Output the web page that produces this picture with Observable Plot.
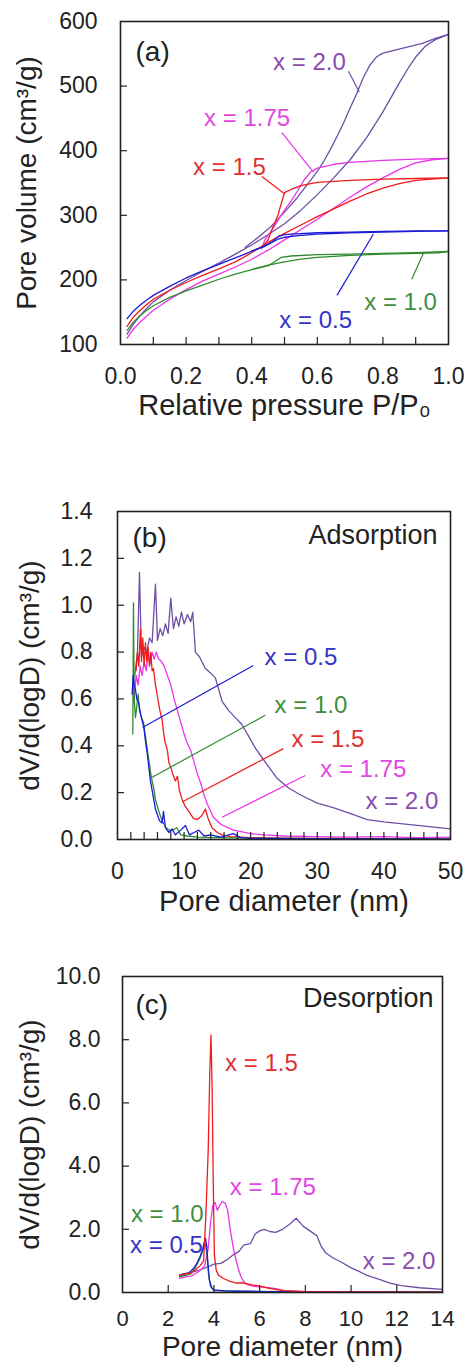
<!DOCTYPE html>
<html><head><meta charset="utf-8">
<script src="https://cdn.jsdelivr.net/npm/d3@7"></script>
<script src="https://cdn.jsdelivr.net/npm/@observablehq/plot@0.6"></script>
<style>
body{margin:0;background:#fff;}
#chart svg{display:block;}
</style>
</head><body><div id="chart"></div>
<script>
// ---------- series ----------
const SERIES = ["x = 0.5", "x = 1.0", "x = 1.5", "x = 1.75", "x = 2.0"];
const LINE_COLORS = ["#1c1cd6", "#2f8a2f", "#f01c1c", "#ea34ea", "#6e4ea6"];
const TEXT_COLORS = ["#3434c8", "#3f8f3f", "#e23030", "#e048e0", "#8a4cb0"];

// ---------- panel (a): isotherms [P/P0, volume] ----------
const a05_ads = [[0.02,140],[0.04,152],[0.06,161],[0.08,169],[0.1,176],[0.15,190],[0.2,203],[0.25,214],[0.3,224],[0.35,234],[0.4,244],[0.45,255],[0.48,263],[0.5,266],[0.55,269],[0.6,271],[0.7,273],[0.8,274],[0.9,275],[1.0,276]];
const a05_des = [[1.0,276],[0.9,276],[0.8,275],[0.7,274],[0.6,273],[0.52,271],[0.5,270],[0.48,267],[0.46,258],[0.44,252],[0.4,245]];
const a10_ads = [[0.02,122],[0.04,135],[0.06,145],[0.08,153],[0.1,160],[0.15,173],[0.2,183],[0.25,192],[0.3,201],[0.35,209],[0.4,216],[0.45,223],[0.5,228],[0.55,232],[0.6,235],[0.7,238],[0.8,240],[0.9,241],[0.97,242],[1.0,244]];
const a10_des = [[1.0,244],[0.9,242],[0.8,241],[0.7,240],[0.6,239],[0.52,237],[0.49,235],[0.47,228],[0.45,222],[0.4,216]];
const a15_ads = [[0.02,128],[0.04,143],[0.06,153],[0.08,162],[0.1,170],[0.15,184],[0.2,196],[0.25,207],[0.3,217],[0.35,228],[0.4,242],[0.45,258],[0.5,272],[0.55,285],[0.6,298],[0.65,310],[0.7,322],[0.75,333],[0.8,342],[0.85,349],[0.9,354],[0.95,356],[1.0,358]];
const a15_des = [[1.0,358],[0.9,357],[0.8,356],[0.7,354],[0.6,351],[0.55,346],[0.52,340],[0.5,335],[0.49,318],[0.48,300],[0.47,288],[0.46,276],[0.45,262],[0.43,250]];
const a175_ads = [[0.02,110],[0.04,124],[0.06,135],[0.08,144],[0.1,153],[0.15,170],[0.2,185],[0.25,198],[0.3,209],[0.35,220],[0.4,232],[0.45,246],[0.5,262],[0.55,278],[0.6,294],[0.65,311],[0.7,328],[0.75,344],[0.8,358],[0.85,371],[0.9,381],[0.95,386],[1.0,388]];
const a175_des = [[1.0,388],[0.9,387],[0.8,385],[0.7,382],[0.65,379],[0.6,373],[0.58,367],[0.56,355],[0.54,338],[0.52,322],[0.5,308],[0.48,292],[0.46,276],[0.44,262],[0.43,248]];
const a20_ads = [[0.02,116],[0.04,132],[0.06,145],[0.08,156],[0.1,166],[0.15,184],[0.2,199],[0.25,213],[0.3,226],[0.35,240],[0.4,254],[0.45,270],[0.5,287],[0.55,308],[0.6,332],[0.65,358],[0.7,386],[0.75,420],[0.8,460],[0.85,505],[0.88,530],[0.9,545],[0.93,562],[0.96,572],[1.0,580]];
const a20_des = [[1.0,580],[0.96,574],[0.92,566],[0.88,561],[0.84,556],[0.8,551],[0.78,545],[0.76,532],[0.74,513],[0.72,488],[0.7,466],[0.68,443],[0.66,422],[0.64,402],[0.62,384],[0.6,368],[0.57,348],[0.54,328],[0.5,305],[0.46,283],[0.42,266],[0.38,250]];
// label [series index, P/P0, volume] and leader [series index, x1, y1, x2, y2]
const a_labels = [[4,0.576,537],[3,0.386,450],[2,0.332,375],[0,0.595,137],[1,0.854,166]];
const a_leaders = [[4,0.695,523,0.728,491],[3,0.492,428,0.588,367],[2,0.431,360,0.498,334],[0,0.66,176,0.771,271],[1,0.888,201,0.924,242]];

// ---------- panel (b): adsorption PSD [D nm, dV/dlogD] ----------
const b05 = [[2.2,0.62],[2.35,0.70],[2.5,0.66],[2.7,0.64],[2.9,0.60],[3.2,0.58],[3.5,0.53],[3.95,0.48],[4.2,0.42],[4.45,0.37],[4.7,0.31],[4.95,0.25],[5.2,0.21],[5.45,0.17],[5.7,0.13],[5.95,0.11],[6.3,0.08],[6.7,0.07],[6.9,0.12],[7.2,0.05],[7.7,0.03],[8.2,0.045],[8.7,0.02],[9.5,0.04],[10.2,0.06],[10.8,0.02],[11.5,0.03],[12.2,0.04],[13,0.015],[14,0.02],[15.5,0.01],[17.4,0.025],[18.5,0.008],[20,0.005],[30,0.004],[40,0.003],[50,0.002]];
const b10 = [[2.3,0.45],[2.4,1.01],[2.5,0.60],[2.7,0.52],[2.9,0.57],[3.1,0.62],[3.3,0.55],[3.6,0.52],[3.9,0.50],[4.2,0.44],[4.65,0.35],[5.0,0.28],[5.2,0.25],[5.5,0.21],[5.7,0.17],[6.2,0.12],[6.7,0.08],[7.3,0.05],[8.0,0.035],[8.9,0.05],[9.5,0.02],[10.5,0.015],[12,0.01],[15,0.008],[20,0.006],[30,0.004],[50,0.003]];
const b15 = [[2.8,0.72],[3.0,0.80],[3.2,0.74],[3.45,0.90],[3.6,0.76],[3.8,0.86],[4.0,0.74],[4.2,0.84],[4.4,0.76],[4.6,0.82],[4.8,0.74],[5.0,0.80],[5.2,0.72],[5.4,0.73],[5.7,0.66],[5.95,0.62],[6.3,0.56],[6.7,0.51],[7.0,0.44],[7.2,0.41],[7.5,0.38],[7.7,0.33],[7.96,0.31],[8.3,0.28],[8.7,0.25],[9.0,0.27],[9.3,0.21],[9.7,0.17],[10.2,0.14],[10.7,0.12],[11.4,0.09],[12.0,0.085],[12.6,0.10],[13.2,0.13],[13.6,0.09],[14.2,0.05],[15.0,0.03],[15.7,0.02],[17,0.012],[20,0.008],[25,0.006],[30,0.005],[40,0.004],[50,0.003]];
const b175 = [[2.5,0.60],[2.8,0.70],[3.1,0.66],[3.4,0.74],[3.7,0.70],[4.0,0.76],[4.3,0.72],[4.6,0.79],[4.9,0.75],[5.2,0.80],[5.5,0.77],[5.8,0.80],[6.2,0.77],[6.6,0.76],[7.0,0.74],[7.5,0.70],[8.0,0.66],[8.5,0.60],[9.0,0.55],[9.5,0.50],[10.0,0.45],[10.5,0.41],[11.0,0.38],[11.5,0.33],[12.0,0.28],[12.5,0.24],[13.0,0.19],[13.5,0.15],[14.4,0.095],[15.5,0.065],[17.4,0.04],[20,0.025],[22,0.02],[25,0.015],[30,0.012],[35,0.01],[40,0.012],[45,0.008],[50,0.01]];
const b20 = [[2.6,0.70],[3.0,0.80],[3.3,1.14],[3.6,0.78],[4.0,0.82],[4.4,0.80],[4.8,0.86],[5.2,0.84],[5.7,1.09],[6.0,0.85],[6.4,0.90],[6.8,0.87],[7.2,0.92],[7.6,0.88],[8.0,1.03],[8.4,0.90],[8.8,0.95],[9.2,0.91],[9.6,0.97],[10.0,0.92],[10.5,0.96],[11.0,0.93],[11.3,0.97],[11.7,0.80],[12.3,0.78],[13.2,0.73],[14.0,0.71],[14.7,0.69],[15.7,0.59],[16.7,0.55],[17.7,0.52],[18.7,0.49],[19.7,0.44],[20.7,0.39],[21.7,0.35],[22.7,0.31],[24,0.26],[25.7,0.22],[27.5,0.19],[30,0.155],[32.5,0.135],[35,0.11],[37.5,0.085],[40,0.075],[45,0.06],[50,0.045]];
const b_labels = [[0,27.55,0.779],[1,29.05,0.574],[2,31.6,0.429],[3,36.9,0.30],[4,42.7,0.162]];
const b_leaders = [[0,20.4,0.743,3.75,0.478],[1,22.2,0.53,5.2,0.266],[2,24.9,0.388,9.7,0.16],[3,28.2,0.273,15.7,0.095]];

// ---------- panel (c): desorption PSD [D nm, dV/dlogD] ----------
const c05 = [[2.5,0.55],[2.7,0.60],[2.9,0.62],[3.1,0.75],[3.27,0.95],[3.4,1.15],[3.5,1.35],[3.58,1.6],[3.63,1.72],[3.68,1.5],[3.74,0.9],[3.8,0.4],[3.9,0.15],[4.0,0.08],[4.5,0.05],[5,0.04],[6,0.03],[8,0.02],[10,0.02],[14,0.01]];
const c10 = [[2.5,0.50],[2.8,0.55],[3.0,0.60],[3.2,0.80],[3.4,1.1],[3.55,1.4],[3.62,1.55],[3.7,1.2],[3.76,0.6],[3.85,0.2],[4.0,0.06],[5,0.04],[8,0.02],[14,0.01]];
const c15 = [[2.5,0.55],[2.8,0.60],[3.0,0.62],[3.2,0.72],[3.4,0.85],[3.55,1.0],[3.65,2.5],[3.75,4.5],[3.82,7.0],[3.87,8.15],[3.92,6.5],[3.97,3.5],[4.02,1.2],[4.1,0.7],[4.2,0.55],[4.4,0.45],[4.7,0.35],[5.0,0.3],[5.3,0.3],[5.6,0.25],[6.0,0.2],[6.5,0.12],[7.0,0.06],[8,0.03],[10,0.02],[14,0.01]];
const c175 = [[2.5,0.45],[2.8,0.50],[3.0,0.52],[3.2,0.60],[3.4,0.70],[3.6,0.85],[3.75,1.4],[3.85,2.2],[3.95,2.75],[4.05,2.85],[4.15,2.6],[4.25,2.75],[4.35,2.88],[4.5,2.82],[4.6,2.6],[4.72,1.96],[4.85,1.4],[4.94,1.12],[5.05,0.8],[5.16,0.54],[5.3,0.35],[5.45,0.25],[5.7,0.2],[6.0,0.18],[6.4,0.15],[6.7,0.12],[7.1,0.06],[8,0.03],[10,0.02],[12,0.02],[14,0.01]];
const c20 = [[2.5,0.50],[2.8,0.60],[3.1,0.65],[3.4,0.72],[3.7,0.80],[4.0,0.90],[4.3,0.92],[4.6,1.05],[4.86,1.2],[5.1,1.3],[5.3,1.5],[5.6,1.55],[5.8,1.85],[6.0,1.95],[6.2,2.0],[6.45,1.93],[6.7,1.9],[7.0,2.0],[7.3,2.15],[7.6,2.35],[7.9,2.1],[8.2,1.95],[8.5,1.8],[8.7,1.45],[8.9,1.25],[9.2,1.1],[9.6,0.95],[10.0,0.78],[10.4,0.65],[10.7,0.54],[11.2,0.42],[11.7,0.3],[12.2,0.22],[13,0.15],[14,0.1]];
const c_labels = [[2,6.08,7.26],[3,6.58,3.34],[1,1.96,2.48],[0,1.92,1.49],[4,12.1,0.99]];

// ---------- axes ----------
const a_xTicks = [0,0.2,0.4,0.6,0.8,1.0];
const a_xMinor = [0.1,0.2,0.3,0.4,0.5,0.6,0.7,0.8,0.9];
const a_yTicks = [100,200,300,400,500,600];
const b_xTicks = [0,10,20,30,40,50];
const b_xMinor = d3.range(2,50,2);
const b_yTicks = [0,0.2,0.4,0.6,0.8,1.0,1.2,1.4];
const c_xTicks = [0,2,4,6,8,10,12,14];
const c_yTicks = [0,2,4,6,8,10];

const FONT = "'Liberation Sans', Arial, Helvetica, sans-serif";

function panel(cfg) {
  const iw = 466 - cfg.ml - cfg.mr, ih = cfg.height - cfg.mt - cfg.mb;
  const marks = [];
  for (const [i, pts] of cfg.curves) {
    marks.push(Plot.line(pts, {x: d => d[0], y: d => d[1], stroke: LINE_COLORS[i], strokeWidth: 1.3}));
  }
  for (const L of cfg.leaders || []) {
    marks.push(Plot.link([L], {x1: d => d[1], y1: d => d[2], x2: d => d[3], y2: d => d[4], stroke: LINE_COLORS[L[0]], strokeWidth: 1.2}));
  }
  for (const L of cfg.labels) {
    marks.push(Plot.text([L], {x: d => d[1], y: d => d[2], text: d => SERIES[d[0]], fill: TEXT_COLORS[L[0]], fontSize: 24, textAnchor: "middle", lineAnchor: "middle"}));
  }
  marks.push(Plot.tickX(cfg.xMinor, {x: d => d, insetTop: ih - 7, stroke: "#222", strokeWidth: 1.2}));
  marks.push(Plot.tickY(cfg.yMinor, {y: d => d, insetRight: iw - 7, stroke: "#222", strokeWidth: 1.2}));
  marks.push(Plot.frame({stroke: "#222", strokeWidth: 1.6}));
  marks.push(Plot.axisX({ticks: cfg.xTicks, tickSize: 0, tickPadding: cfg.xPad, tickFormat: cfg.xFmt, fontSize: cfg.xTickFont || 23, label: null}));
  marks.push(Plot.axisY({ticks: cfg.yTicks, tickSize: 0, tickPadding: cfg.yPad, tickFormat: cfg.yFmt, fontSize: 23, label: null}));
  marks.push(Plot.text([cfg.xTitle], {frameAnchor: "bottom", dy: cfg.xTitleDy, text: d => d, fontSize: cfg.xTitleFont || 29, textAnchor: "middle", lineAnchor: "middle", fill: "#222"}));
  marks.push(Plot.text([cfg.yTitle], {frameAnchor: "left", dx: cfg.yTitleDx, text: d => d, rotate: -90, fontSize: 28, textAnchor: "middle", lineAnchor: "middle", fill: "#222"}));
  marks.push(Plot.text([cfg.letter], {frameAnchor: "top-left", dx: cfg.letterDx, dy: cfg.letterDy, text: d => d, fontSize: 28, textAnchor: "start", lineAnchor: "middle", fill: "#222"}));
  if (cfg.mode) marks.push(Plot.text([cfg.mode], {frameAnchor: "top-right", dx: cfg.modeDx, dy: cfg.modeDy, text: d => d, fontSize: 27, textAnchor: "end", lineAnchor: "middle", fill: "#222"}));
  return Plot.plot({
    width: 466, height: cfg.height,
    marginTop: cfg.mt, marginBottom: cfg.mb, marginLeft: cfg.ml, marginRight: cfg.mr,
    x: {domain: cfg.xDomain}, y: {domain: cfg.yDomain},
    style: {fontFamily: FONT, color: "#222", background: "#fff", overflow: "visible"},
    marks
  });
}

const root = document.getElementById("chart");
root.append(panel({
  height: 440, mt: 21, mb: 96, ml: 120, mr: 18,
  xDomain: [0, 1], yDomain: [100, 600],
  xTicks: a_xTicks, xMinor: a_xMinor, yTicks: a_yTicks, yMinor: [200,300,400,500],
  xFmt: d3.format(".1f"), yFmt: d3.format("d"), xPad: 23, yPad: 23,
  curves: [[4,a20_ads],[4,a20_des],[3,a175_ads],[3,a175_des],[2,a15_ads],[2,a15_des],[1,a10_ads],[1,a10_des],[0,a05_ads],[0,a05_des]],
  labels: a_labels, leaders: a_leaders,
  xTitle: "Relative pressure P/P₀", xTitleDy: 61,
  yTitle: "Pore volume (cm³/g)", yTitleDx: -93,
  letter: "(a)", letterDx: 15, letterDy: 31
}));
root.append(panel({
  height: 480, mt: 71, mb: 81, ml: 117, mr: 16,
  xDomain: [0, 50], yDomain: [0, 1.4],
  xTicks: b_xTicks, xMinor: b_xMinor, yTicks: b_yTicks, yMinor: [0.2,0.4,0.6,0.8,1.0,1.2],
  xFmt: d3.format("d"), yFmt: d3.format(".1f"), xPad: 23, yPad: 25,
  curves: [[4,b20],[3,b175],[2,b15],[1,b10],[0,b05]],
  labels: b_labels, leaders: b_leaders,
  xTitle: "Pore diameter (nm)", xTitleDy: 62,
  yTitle: "dV/d(logD) (cm³/g)", yTitleDx: -87,
  letter: "(b)", letterDx: 15, letterDy: 27,
  mode: "Adsorption", modeDx: -13, modeDy: 24
}));
root.append(panel({
  height: 442, mt: 56, mb: 70, ml: 122, mr: 24,
  xDomain: [0, 14], yDomain: [0, 10],
  xTicks: c_xTicks, xMinor: [2,4,6,8,10,12], yTicks: c_yTicks, yMinor: [2,4,6,8],
  xFmt: d3.format("d"), yFmt: d3.format(".1f"), xPad: 18, yPad: 22, xTickFont: 22,
  curves: [[4,c20],[3,c175],[1,c10],[0,c05],[2,c15]],
  labels: c_labels, leaders: [],
  xTitle: "Pore diameter (nm)", xTitleDy: 55, xTitleFont: 28,
  yTitle: "dV/d(logD) (cm³/g)", yTitleDx: -92,
  letter: "(c)", letterDx: 13, letterDy: 29,
  mode: "Desorption", modeDx: -9, modeDy: 22
}));
</script>
</body></html>
